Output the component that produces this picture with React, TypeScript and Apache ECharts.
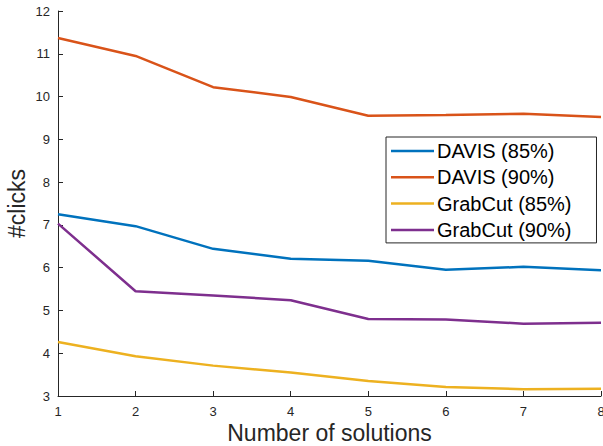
import React, { useEffect, useRef } from "react";
import * as echarts from "echarts";

const xValues = [1, 2, 3, 4, 5, 6, 7, 8];
const davis85 = [7.25, 6.97, 6.44, 6.21, 6.16, 5.95, 6.02, 5.94];
const davis90 = [11.37, 10.95, 10.22, 9.99, 9.55, 9.57, 9.6, 9.52];
const grabcut85 = [4.26, 3.93, 3.71, 3.55, 3.35, 3.21, 3.16, 3.17];
const grabcut90 = [7.03, 5.45, 5.35, 5.24, 4.8, 4.79, 4.69, 4.71];
const seriesNames = ["DAVIS (85%)", "DAVIS (90%)", "GrabCut (85%)", "GrabCut (90%)"];
const colors = ["#0072BD", "#D95319", "#EDB120", "#7E2F8E"];

const FONT = "Liberation Sans, Arial, Helvetica, sans-serif";
const AXIS = "#262626";

export default function App() {
  const ref = useRef<HTMLDivElement>(null);
  useEffect(() => {
    if (!ref.current) return;
    const chart = echarts.init(ref.current, undefined, { renderer: "svg" });
    const datasets = [davis85, davis90, grabcut85, grabcut90];
    chart.setOption({
      animation: false,
      backgroundColor: "#ffffff",
      grid: { left: 58, right: 2, top: 11, bottom: 50, containLabel: false, outerBoundsMode: "none" },
      legend: {
        orient: "vertical",
        left: 386,
        top: 137,
        data: seriesNames,
        borderColor: AXIS,
        borderWidth: 1,
        borderRadius: 0,
        padding: [4, 25, 3, 5],
        itemWidth: 43,
        itemHeight: 14,
        itemGap: 6.3,
        icon: "path://M0,6 L43,6 L43,8.5 L0,8.5 Z",
        textStyle: { fontSize: 20, lineHeight: 20, color: "#000", fontFamily: FONT, padding: [0, 0, 0, -2] },
      },
      xAxis: {
        type: "value",
        min: 1,
        max: 8,
        interval: 1,
        name: "Number of solutions",
        nameLocation: "middle",
        nameMoveOverlap: false,
        nameGap: 25,
        nameTextStyle: { fontSize: 23, color: AXIS, fontFamily: FONT },
        axisLine: { lineStyle: { color: AXIS, width: 1 } },
        axisTick: { inside: true, length: 5, lineStyle: { color: AXIS } },
        axisLabel: { fontSize: 13, color: AXIS, fontFamily: FONT, margin: 9 },
        splitLine: { show: false },
      },
      yAxis: {
        type: "value",
        min: 3,
        max: 12,
        interval: 1,
        name: "#clicks",
        nameLocation: "middle",
        nameMoveOverlap: false,
        nameGap: 29.5,
        nameTextStyle: { fontSize: 23, color: AXIS, fontFamily: FONT },
        axisLine: { show: true, lineStyle: { color: AXIS, width: 1 } },
        axisTick: { show: true, inside: true, length: 5, lineStyle: { color: AXIS } },
        axisLabel: { fontSize: 13, color: AXIS, fontFamily: FONT, margin: 8 },
        splitLine: { show: false },
      },
      series: datasets.map((d, i) => ({
        name: seriesNames[i],
        type: "line",
        data: d.map((v, j) => [xValues[j], v]),
        symbol: "none",
        color: colors[i],
        lineStyle: { color: colors[i], width: 2.5 },
        itemStyle: { color: colors[i] },
      })),
    });
    return () => chart.dispose();
  }, []);
  return <div ref={ref} style={{ width: 603, height: 446, position: "absolute", left: 0, top: 0 }} />;
}
